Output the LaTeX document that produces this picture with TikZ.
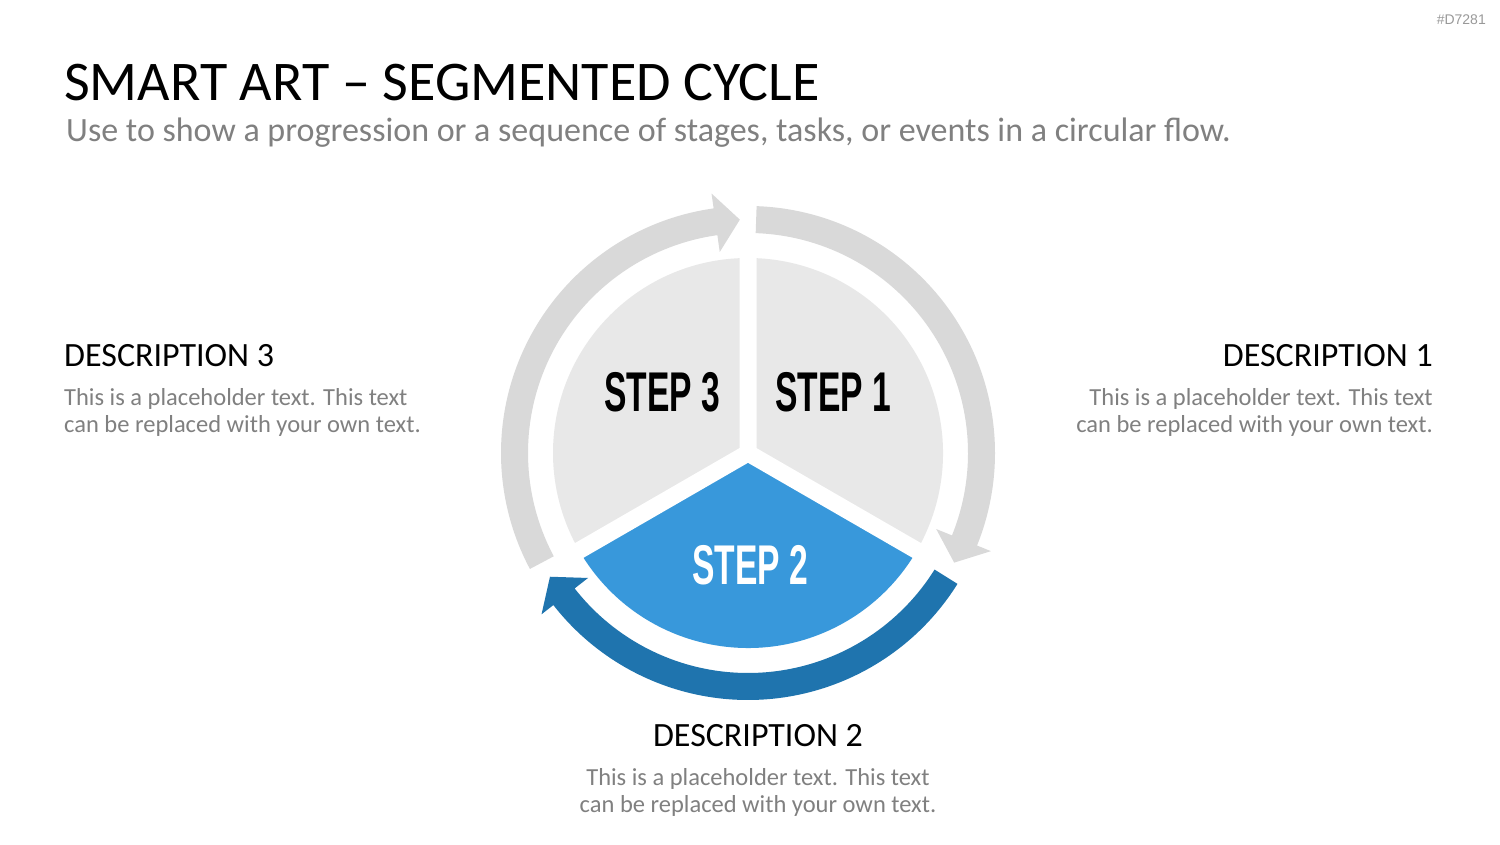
\documentclass[tikz,border=0pt]{standalone}
\usepackage{fontspec}
\setmainfont{Carlito}
\newfontfamily\stepfont{Liberation Sans}[FakeStretch=0.6]
\newfontfamily\hashfont{Liberation Sans}
\definecolor{slicegray}{HTML}{E8E8E8}
\definecolor{ringgray}{HTML}{D9D9D9}
\definecolor{sliceblue}{HTML}{3898DB}
\definecolor{ringblue}{HTML}{1F74AE}
\definecolor{txtgray}{HTML}{808080}
\tikzset{
  titletext/.style={inner sep=0pt, font=\fontsize{56}{62}\selectfont, text=black},
  subtext/.style={inner sep=0pt, font=\fontsize{34}{40}\selectfont, text=txtgray},
  deschead/.style={inner sep=0pt, font=\fontsize{34}{40}\selectfont, text=black},
  descbody/.style={inner sep=0pt, font=\fontsize{24.5}{29}\selectfont, text=txtgray},
  steplabel/.style={inner sep=0pt, font=\stepfont\bfseries\fontsize{56}{60}\selectfont},
  hashtext/.style={inner sep=0pt, font=\hashfont\fontsize{14}{16}\selectfont, text=gray!80},
}
\begin{document}
\begin{tikzpicture}[x=1pt,y=1pt]
\useasboundingbox (0,0) rectangle (1500,844);
\fill[white] (0,0) rectangle (1500,844);
\begin{scope}[shift={(748,391)}]
  % pie slices
  \fill[slicegray] (0,0) -- (90:195) arc[start angle=90,end angle=210,radius=195] -- cycle;
  \fill[slicegray] (0,0) -- (-30:195) arc[start angle=-30,end angle=90,radius=195] -- cycle;
  \fill[sliceblue] (0,0) -- (210:195) arc[start angle=210,end angle=330,radius=195] -- cycle;
  \draw[white,line width=17pt,line cap=round] (0,0) -- (90:205) (0,0) -- (210:205) (0,0) -- (330:205);
  % ring arrows
  \fill[ringgray] (88:247) arc[start angle=88,end angle=-22,radius=247] -- (-22:262) -- (-28:233.5) -- (-22:203) -- (-22:220) arc[start angle=-22,end angle=88,radius=220] -- cycle;
  \fill[ringblue] (-32:247) arc[start angle=-32,end angle=-142,radius=247] -- (-142:262) -- (-148:233.5) -- (-142:203) -- (-142:220) arc[start angle=-142,end angle=-32,radius=220] -- cycle;
  \fill[ringgray] (208:247) arc[start angle=208,end angle=98,radius=247] -- (98:262) -- (92:233.5) -- (98:203) -- (98:220) arc[start angle=98,end angle=208,radius=220] -- cycle;
\end{scope}
% step labels
\node[steplabel, text=black] (step3) at (662,452) {STEP 3};
\node[steplabel, text=black] (step1) at (833,452) {STEP 1};
\node[steplabel, text=white] (step2) at (750,279) {STEP 2};
% header
\node[hashtext, anchor=base east] (hash) at (1486,819) {\#D7281};
\node[titletext, anchor=base west] (title) at (64,743) {SMART ART – SEGMENTED CYCLE};
\node[subtext, anchor=base west] (subtitle) at (66,702) {Use to show a progression or a sequence of stages, tasks, or events in a circular flow.};
% description 3
\node[deschead, anchor=base west] (d3h) at (64,477) {DESCRIPTION 3};
\node[descbody, anchor=base west] (d3a) at (64,438) {This is a placeholder text. This text};
\node[descbody, anchor=base west] (d3b) at (64,411) {can be replaced with your own text.};
% description 1
\node[deschead, anchor=base east] (d1h) at (1433,477) {DESCRIPTION 1};
\node[descbody, anchor=base east] (d1a) at (1433,438) {This is a placeholder text. This text};
\node[descbody, anchor=base east] (d1b) at (1433,411) {can be replaced with your own text.};
% description 2
\node[deschead, anchor=base] (d2h) at (758,98) {DESCRIPTION 2};
\node[descbody, anchor=base] (d2a) at (758,59) {This is a placeholder text. This text};
\node[descbody, anchor=base] (d2b) at (758,32) {can be replaced with your own text.};
\end{tikzpicture}
\end{document}
